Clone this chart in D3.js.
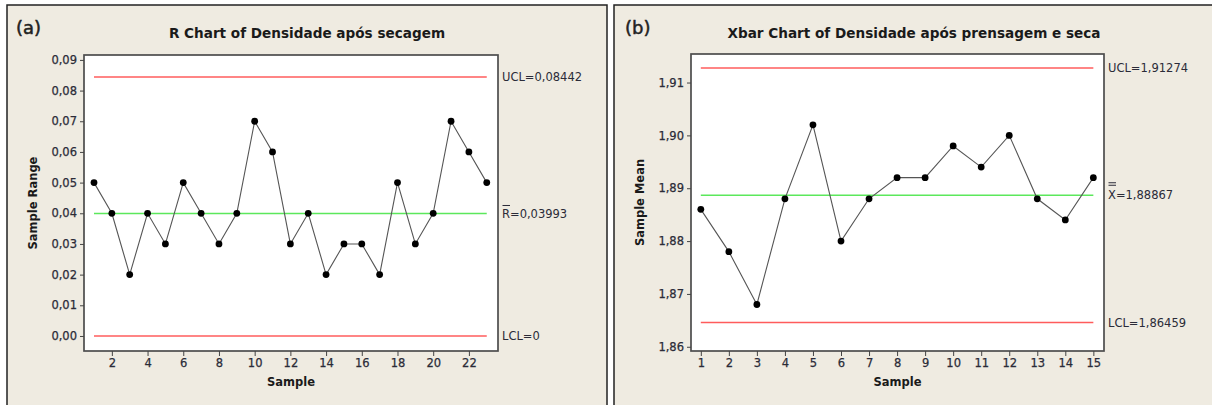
<!DOCTYPE html>
<html>
<head>
<meta charset="utf-8">
<script src="https://cdn.jsdelivr.net/npm/d3@7"></script>
<style>
  body { margin: 0; background: #fff; }
  svg text { font-family: "DejaVu Sans", Verdana, sans-serif; }
</style>
</head>
<body>
<div id="chart"></div>
<script>
// panel (a) - R chart
const rSamples = [1, 2, 3, 4, 5, 6, 7, 8, 9, 10, 11, 12, 13, 14, 15, 16, 17, 18, 19, 20, 21, 22, 23];
const rValues = [0.05, 0.04, 0.02, 0.04, 0.03, 0.05, 0.04, 0.03, 0.04, 0.07, 0.06, 0.03,
                 0.04, 0.02, 0.03, 0.03, 0.02, 0.05, 0.03, 0.04, 0.07, 0.06, 0.05];
const rTicksY = [0, 0.01, 0.02, 0.03, 0.04, 0.05, 0.06, 0.07, 0.08, 0.09];
const rTicksX = [2, 4, 6, 8, 10, 12, 14, 16, 18, 20, 22];
const rLimits = { ucl: 0.08442, center: 0.03993, lcl: 0 };
const rLabels = ['UCL=0,08442', '=0,03993', 'LCL=0'];

// panel (b) - Xbar chart
const xSamples = [1, 2, 3, 4, 5, 6, 7, 8, 9, 10, 11, 12, 13, 14, 15];
const xValues = [1.886, 1.878, 1.868, 1.888, 1.902, 1.880, 1.888, 1.892, 1.892,
                 1.898, 1.894, 1.900, 1.888, 1.884, 1.892];
const xTicksY = [1.86, 1.87, 1.88, 1.89, 1.90, 1.91];
const xTicksX = [1, 2, 3, 4, 5, 6, 7, 8, 9, 10, 11, 12, 13, 14, 15];
const xLimits = { ucl: 1.91274, center: 1.88867, lcl: 1.86459 };
const xLabels = ['UCL=1,91274', '=1,88867', 'LCL=1,86459'];

const W = 1212, H = 405;
const bg = '#efebe1';
const textCol = '#2b2b38';

const svg = d3.select('#chart').append('svg')
    .attr('width', W).attr('height', H);

svg.append('rect').attr('width', W).attr('height', H).attr('fill', '#fff');

const comma = d3.formatLocale({ decimal: ',', thousands: '.', grouping: [3], currency: ['', ''] });

function drawPanel(o) {
    const g = svg.append('g');

    // panel background + border
    g.append('rect')
        .attr('x', o.box[0]).attr('y', o.box[1])
        .attr('width', o.box[2]).attr('height', o.box[3])
        .attr('fill', bg).attr('stroke', '#222').attr('stroke-width', 1.5);

    const x = d3.scaleLinear().domain(o.xDomain).range([o.plot.left, o.plot.right]);
    const y = d3.scaleLinear().domain(o.yDomain).range([o.plot.bottom, o.plot.top]);

    g.append('rect')
        .attr('x', o.plot.left).attr('y', o.plot.top)
        .attr('width', o.plot.right - o.plot.left)
        .attr('height', o.plot.bottom - o.plot.top)
        .attr('fill', '#fff').attr('stroke', '#4d4d4d').attr('stroke-width', 1.7);

    const yAxis = g.append('g')
        .attr('transform', `translate(${o.plot.left},0)`)
        .call(d3.axisLeft(y).tickValues(o.ticksY).tickSize(4).tickPadding(3)
            .tickFormat(comma.format(o.yFmt)));
    const xAxis = g.append('g')
        .attr('transform', `translate(0,${o.plot.bottom})`)
        .call(d3.axisBottom(x).tickValues(o.ticksX).tickSize(5).tickPadding(3)
            .tickFormat(d3.format('d')));
    [yAxis, xAxis].forEach(a => {
        a.select('.domain').remove();
        a.selectAll('line').attr('stroke', '#444');
        a.selectAll('text').attr('fill', textCol).style('font-size', '11.5px')
            .attr('stroke', textCol).attr('stroke-width', 0.25);
    });

    const x0 = x(o.samples[0]), x1 = x(o.samples[o.samples.length - 1]);
    [['ucl', '#ff5c5c'], ['center', '#5ce85c'], ['lcl', '#ff5c5c']].forEach(([k, c]) => {
        g.append('line')
            .attr('x1', x0).attr('x2', x1)
            .attr('y1', y(o.limits[k])).attr('y2', y(o.limits[k]))
            .attr('stroke', c).attr('stroke-width', 1.6);
    });

    const pts = o.samples.map((s, i) => ({ s: s, v: o.values[i] }));
    g.append('path')
        .datum(pts)
        .attr('fill', 'none').attr('stroke', '#555').attr('stroke-width', 1.1)
        .attr('d', d3.line().x(d => x(d.s)).y(d => y(d.v)));
    g.selectAll('circle.pt')
        .data(pts).enter().append('circle')
        .attr('class', 'pt')
        .attr('cx', d => x(d.s)).attr('cy', d => y(d.v))
        .attr('r', 3.4).attr('fill', '#000');

    // limit labels on the right
    const lx = o.plot.right + 4;
    const lab = (val, txt) => g.append('text').attr('x', lx).attr('y', y(val)).attr('dy', '0.35em')
        .attr('fill', textCol).style('font-size', '11.5px').text(txt);
    lab(o.limits.ucl, o.labels[0]);
    lab(o.limits.lcl, o.labels[2]);
    const cl = lab(o.limits.center, null);
    cl.append('tspan').text(o.sym);
    cl.append('tspan').text(o.labels[1]);
    // bar(s) over the symbol
    const symW = 8;
    o.bars.forEach(off => {
        g.append('line')
            .attr('x1', lx + 0.5).attr('x2', lx + symW)
            .attr('y1', y(o.limits.center) - off).attr('y2', y(o.limits.center) - off)
            .attr('stroke', textCol).attr('stroke-width', 1);
    });

    // titles
    g.append('text').attr('x', o.tag[0]).attr('y', o.tag[1])
        .attr('fill', '#222').attr('stroke', '#222').attr('stroke-width', 0.5)
        .style('font-size', '18px').text(o.tagText);
    g.append('text').attr('x', o.titleX).attr('y', 38)
        .attr('text-anchor', 'middle').attr('fill', '#1a1a1a')
        .style('font-size', '13.6px').style('font-weight', 'bold').text(o.title);
    g.append('text').attr('x', (o.plot.left + o.plot.right) / 2).attr('y', 386)
        .attr('text-anchor', 'middle').attr('fill', '#1a1a1a')
        .style('font-size', '11.5px').style('font-weight', 'bold').text('Sample');
    g.append('text')
        .attr('transform', `translate(${o.yTitleX},${(o.plot.top + o.plot.bottom) / 2}) rotate(-90)`)
        .attr('text-anchor', 'middle').attr('fill', '#1a1a1a')
        .style('font-size', '11.5px').style('font-weight', 'bold').text(o.yTitle);
}

drawPanel({
    box: [7, 5, 600, 410],
    plot: { left: 84, right: 498, top: 55, bottom: 351 },
    xDomain: [0.44, 23.63], yDomain: [-0.0049, 0.0916],
    ticksX: rTicksX, ticksY: rTicksY, yFmt: '.2f',
    samples: rSamples, values: rValues, limits: rLimits, labels: rLabels,
    sym: 'R', bars: [8],
    tag: [16, 34], tagText: '(a)',
    titleX: 307, title: 'R Chart of Densidade após secagem',
    yTitleX: 37, yTitle: 'Sample Range'
});

drawPanel({
    box: [614, 5, 610, 410],
    plot: { left: 691, right: 1104, top: 54, bottom: 351 },
    xDomain: [0.65, 15.38], yDomain: [1.8592, 1.9154],
    ticksX: xTicksX, ticksY: xTicksY, yFmt: '.2f',
    samples: xSamples, values: xValues, limits: xLimits, labels: xLabels,
    sym: 'X', bars: [10, 12.5],
    tag: [625, 34], tagText: '(b)',
    titleX: 914, title: 'Xbar Chart of Densidade após prensagem e seca',
    yTitleX: 644, yTitle: 'Sample Mean'
});
</script>
</body>
</html>
